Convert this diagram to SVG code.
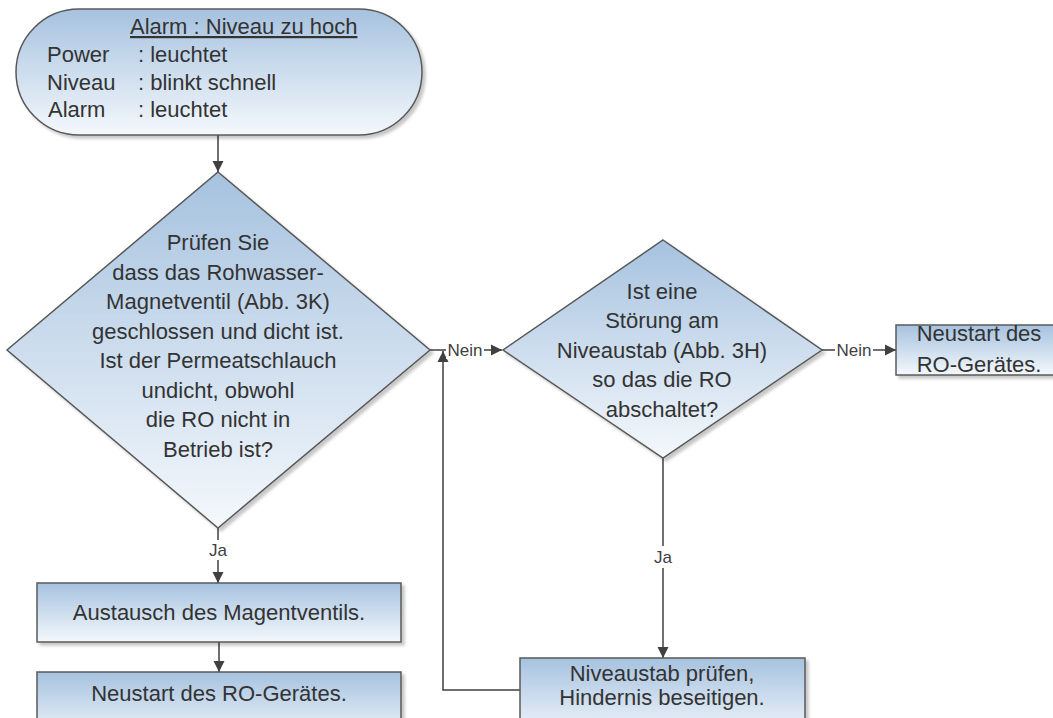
<svg xmlns="http://www.w3.org/2000/svg" width="1053" height="718" viewBox="0 0 1053 718">
  <style>
    .shape { fill: url(#grad); stroke: #595959; stroke-width: 1.5; filter: url(#shadow); }
    .t { font-family: "Liberation Sans", Arial, sans-serif; font-size: 22px; fill: #333333; }
    .c { text-anchor: middle; }
    .lbl { font-family: "Liberation Sans", Arial, sans-serif; font-size: 17px; fill: #404040; text-anchor: middle; }
    .conn { fill: none; stroke: #404040; stroke-width: 1.5; }
  </style>
  <defs>
    <linearGradient id="grad" x1="0" y1="0" x2="0" y2="1">
      <stop offset="0" stop-color="#a6c2df"/>
      <stop offset="1" stop-color="#f4f8fc"/>
    </linearGradient>
    <filter id="shadow" x="-10%" y="-10%" width="125%" height="125%">
      <feDropShadow dx="3" dy="3" stdDeviation="1.5" flood-color="#000" flood-opacity="0.22"/>
    </filter>
    <marker id="arrow" viewBox="0 0 10 10" refX="10" refY="5" markerWidth="11" markerHeight="12" markerUnits="userSpaceOnUse" orient="auto">
      <path d="M0,0 L10,5 L0,10 z" fill="#404040"/>
    </marker>
  </defs>

  <rect width="1053" height="718" fill="#ffffff"/>

  <g id="connectors">
    <line class="conn" x1="218" y1="135" x2="218" y2="172" marker-end="url(#arrow)"/>
    <line class="conn" x1="218" y1="528" x2="218" y2="583" marker-end="url(#arrow)"/>
    <line class="conn" x1="219" y1="642" x2="219" y2="672" marker-end="url(#arrow)"/>
    <line class="conn" x1="430" y1="350" x2="502" y2="350" marker-end="url(#arrow)"/>
    <polyline class="conn" points="520,690 443,690 443,351" marker-end="url(#arrow)"/>
    <line class="conn" x1="822" y1="350" x2="896" y2="350" marker-end="url(#arrow)"/>
    <line class="conn" x1="663" y1="458" x2="663" y2="658" marker-end="url(#arrow)"/>
    <rect x="207" y="540" width="22" height="20" fill="#ffffff"/>
    <text class="lbl" x="218" y="556">Ja</text>
    <rect x="652" y="546" width="22" height="22" fill="#ffffff"/>
    <text class="lbl" x="663" y="563">Ja</text>
    <rect x="446" y="341" width="38" height="18" fill="#ffffff"/>
    <text class="lbl" x="465" y="356">Nein</text>
    <rect x="835" y="341" width="38" height="18" fill="#ffffff"/>
    <text class="lbl" x="854" y="356">Nein</text>
  </g>

  <g id="start">
    <rect class="shape" x="16" y="9" width="406" height="126" rx="63" ry="63"/>
    <text class="t" x="130" y="34" text-decoration="underline">Alarm : Niveau zu hoch</text>
    <text class="t" x="47" y="62">Power</text>
    <text class="t" x="138" y="62">: leuchtet</text>
    <text class="t" x="47" y="90">Niveau</text>
    <text class="t" x="138" y="90">: blinkt schnell</text>
    <text class="t" x="48" y="117">Alarm</text>
    <text class="t" x="138" y="117">: leuchtet</text>
  </g>

  <g id="decision1">
    <polygon class="shape" points="218,172 430,350 218,528 7,350"/>
    <text class="t c" x="218" y="250">Prüfen Sie</text>
    <text class="t c" x="218" y="280">dass das Rohwasser-</text>
    <text class="t c" x="218" y="309">Magnetventil (Abb. 3K)</text>
    <text class="t c" x="218" y="339">geschlossen und dicht ist.</text>
    <text class="t c" x="218" y="368">Ist der Permeatschlauch</text>
    <text class="t c" x="218" y="398">undicht, obwohl</text>
    <text class="t c" x="218" y="427">die RO nicht in</text>
    <text class="t c" x="218" y="457">Betrieb ist?</text>
  </g>

  <g id="box-austausch">
    <rect class="shape" x="37" y="583" width="364" height="59"/>
    <text class="t c" x="219" y="620">Austausch des Magentventils.</text>
  </g>

  <g id="box-neustart1">
    <rect class="shape" x="37" y="672" width="364" height="70"/>
    <text class="t c" x="219" y="701">Neustart des RO-Gerätes.</text>
  </g>

  <g id="decision2">
    <polygon class="shape" points="663,240 822,350 663,458 503,350"/>
    <text class="t c" x="662" y="299">Ist eine</text>
    <text class="t c" x="662" y="328">Störung am</text>
    <text class="t c" x="662" y="358">Niveaustab (Abb. 3H)</text>
    <text class="t c" x="662" y="387">so das die RO</text>
    <text class="t c" x="662" y="417">abschaltet?</text>
  </g>

  <g id="box-neustart2">
    <rect class="shape" x="896" y="325" width="166" height="50"/>
    <text class="t c" x="979" y="341">Neustart des</text>
    <text class="t c" x="979" y="372">RO-Gerätes.</text>
  </g>

  <g id="box-niveaustab">
    <rect class="shape" x="520" y="658" width="285" height="80"/>
    <text class="t c" x="662" y="681">Niveaustab prüfen,</text>
    <text class="t c" x="662" y="705">Hindernis beseitigen.</text>
  </g>
</svg>
